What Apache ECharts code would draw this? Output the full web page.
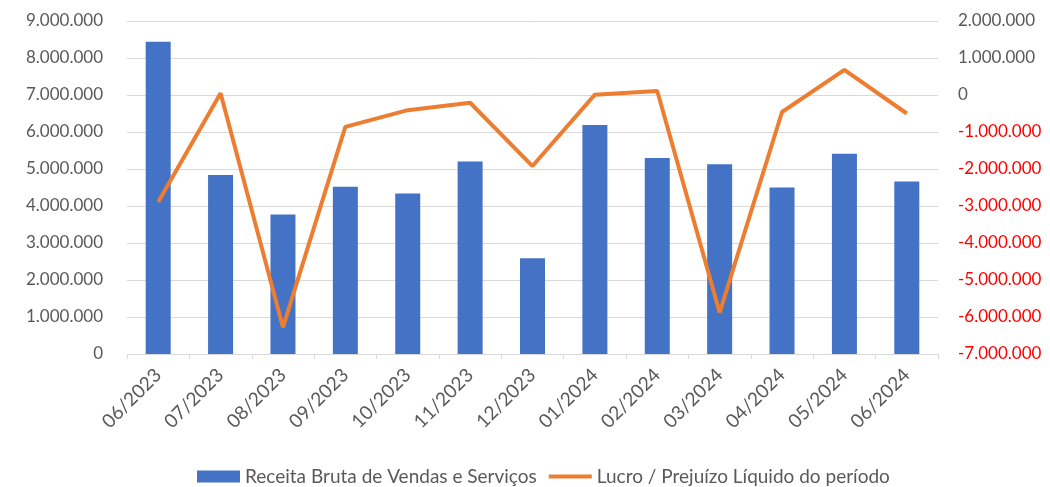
<!DOCTYPE html>
<html>
<head>
<meta charset="utf-8">
<script src="https://cdn.jsdelivr.net/npm/echarts@6/dist/echarts.min.js"></script>
<style>
  html, body { margin: 0; padding: 0; background: #fff; }
  #chart { width: 1050px; height: 487px; }
</style>
</head>
<body>
<div id="chart"></div>
<script>
  var months = ['06/2023', '07/2023', '08/2023', '09/2023', '10/2023', '11/2023', '12/2023',
    '01/2024', '02/2024', '03/2024', '04/2024', '05/2024', '06/2024']
  var receita = [8440000, 4840000, 3770000, 4520000, 4340000, 5200000, 2590000,
    6190000, 5300000, 5130000, 4500000, 5410000, 4660000]
  var lucro = [-2890000, 50000, -6280000, -860000, -410000, -210000, -1920000,
    10000, 110000, -5880000, -460000, 680000, -500000]

  var fontFamily = 'Lato, "Open Sans", sans-serif'

  function fmt (v) {
    var s = String(Math.abs(v)).replace(/\B(?=(\d{3})+(?!\d))/g, '.')
    return (v < 0 ? '-' : '') + s
  }

  var chart = echarts.init(document.getElementById('chart'))
  var option = {
    animation: false,
    textStyle: { fontFamily: fontFamily },
    grid: { left: 127, right: 112, top: 21, bottom: 133 },
    legend: {
      top: 462,
      left: 192,
      itemWidth: 43,
      itemHeight: 12,
      itemGap: 12,
      textStyle: { color: '#595959', fontSize: 19, fontFamily: fontFamily },
      data: [
        { name: 'Receita Bruta de Vendas e Serviços', icon: 'rect' },
        { name: 'Lucro / Prejuízo Líquido do período', icon: 'path://M0,0 L43,0 L43,4 L0,4 Z' }
      ]
    },
    xAxis: {
      type: 'category',
      data: months,
      axisLine: { lineStyle: { color: '#d9d9d9', width: 1 } },
      axisTick: { show: true, length: 5, lineStyle: { color: '#d9d9d9' } },
      axisLabel: { rotate: 45, margin: 18, color: '#595959', fontSize: 19, fontFamily: fontFamily }
    },
    yAxis: [
      {
        type: 'value',
        min: 0,
        max: 9000000,
        interval: 1000000,
        axisLine: { show: false },
        axisTick: { show: false },
        splitLine: { lineStyle: { color: '#d9d9d9', width: 1 } },
        axisLabel: { margin: 24, color: '#595959', fontSize: 17, fontFamily: fontFamily, formatter: fmt }
      },
      {
        type: 'value',
        min: -7000000,
        max: 2000000,
        interval: 1000000,
        position: 'right',
        axisLine: { show: false },
        axisTick: { show: false },
        splitLine: { show: false },
        axisLabel: {
          margin: 20,
          fontSize: 17,
          fontFamily: fontFamily,
          formatter: fmt,
          color: function (v) {
            return Number(v) < 0 ? '#ff0000' : '#595959'
          }
        }
      }
    ],
    series: [
      {
        name: 'Receita Bruta de Vendas e Serviços',
        type: 'bar',
        yAxisIndex: 0,
        data: receita,
        barWidth: 25,
        itemStyle: { color: '#4472c4' }
      },
      {
        name: 'Lucro / Prejuízo Líquido do período',
        type: 'line',
        yAxisIndex: 1,
        data: lucro,
        symbol: 'none',
        lineStyle: { color: '#ed7d31', width: 4 },
        itemStyle: { color: '#ed7d31' }
      }
    ]
  }
  chart.setOption(option)
</script>
</body>
</html>
